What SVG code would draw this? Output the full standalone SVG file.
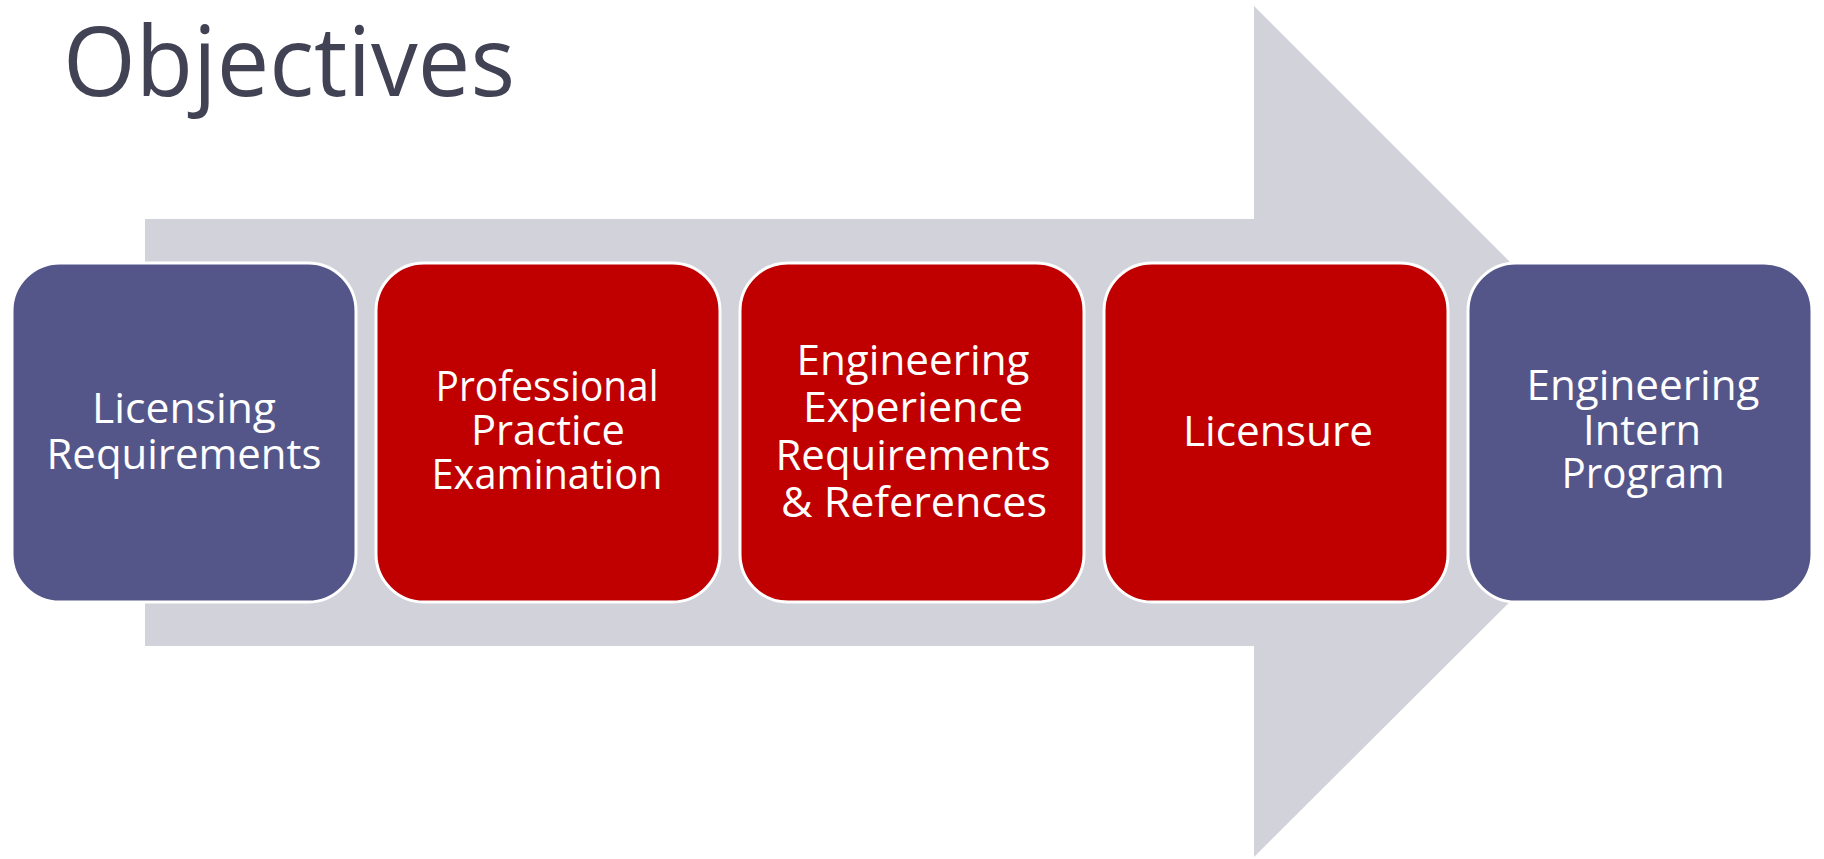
<svg xmlns="http://www.w3.org/2000/svg" width="1824" height="859" viewBox="0 0 1824 859">
<style>
  .title { font-family: "Open Sans", "DejaVu Sans", sans-serif; font-size: 97px; fill: #414355; }
  .box { stroke: #ffffff; stroke-width: 3; }
  .purple { fill: #54568A; }
  .red { fill: #C00000; }
  .lbl { font-family: "Open Sans", "DejaVu Sans", sans-serif; font-size: 42px; fill: #ffffff; text-anchor: middle; }
</style>
<rect x="0" y="0" width="1824" height="859" fill="#ffffff"/>
<text class="title" x="63" y="96" textLength="452" lengthAdjust="spacingAndGlyphs">Objectives</text>
<g id="connectors">
  <polygon points="145,219 1254,219 1254,6 1680,432 1254,857 1254,646 145,646" fill="#D1D2DA"/>
</g>
<g id="node1">
  <rect class="box purple" x="12" y="263" width="344" height="339" rx="48" ry="48"/>
  <text class="lbl" x="184" y="423" textLength="184" lengthAdjust="spacingAndGlyphs">Licensing</text>
  <text class="lbl" x="184" y="469" textLength="275" lengthAdjust="spacingAndGlyphs">Requirements</text>
</g>
<g id="node2">
  <rect class="box red" x="376" y="263" width="344" height="339" rx="48" ry="48"/>
  <text class="lbl" x="547" y="401" textLength="223" lengthAdjust="spacingAndGlyphs">Professional</text>
  <text class="lbl" x="548" y="445" textLength="154" lengthAdjust="spacingAndGlyphs">Practice</text>
  <text class="lbl" x="547" y="489" textLength="231" lengthAdjust="spacingAndGlyphs">Examination</text>
</g>
<g id="node3">
  <rect class="box red" x="740" y="263" width="344" height="339" rx="48" ry="48"/>
  <text class="lbl" x="913" y="375" textLength="233" lengthAdjust="spacingAndGlyphs">Engineering</text>
  <text class="lbl" x="913" y="422" textLength="220" lengthAdjust="spacingAndGlyphs">Experience</text>
  <text class="lbl" x="913" y="470" textLength="275" lengthAdjust="spacingAndGlyphs">Requirements</text>
  <text class="lbl" x="914" y="517" textLength="266" lengthAdjust="spacingAndGlyphs">&amp; References</text>
</g>
<g id="node4">
  <rect class="box red" x="1104" y="263" width="344" height="339" rx="48" ry="48"/>
  <text class="lbl" x="1278" y="446" textLength="190" lengthAdjust="spacingAndGlyphs">Licensure</text>
</g>
<g id="node5">
  <rect class="box purple" x="1468" y="263" width="344" height="339" rx="48" ry="48"/>
  <text class="lbl" x="1643" y="400" textLength="233" lengthAdjust="spacingAndGlyphs">Engineering</text>
  <text class="lbl" x="1642" y="445" textLength="118" lengthAdjust="spacingAndGlyphs">Intern</text>
  <text class="lbl" x="1643" y="488" textLength="163" lengthAdjust="spacingAndGlyphs">Program</text>
</g>
</svg>
